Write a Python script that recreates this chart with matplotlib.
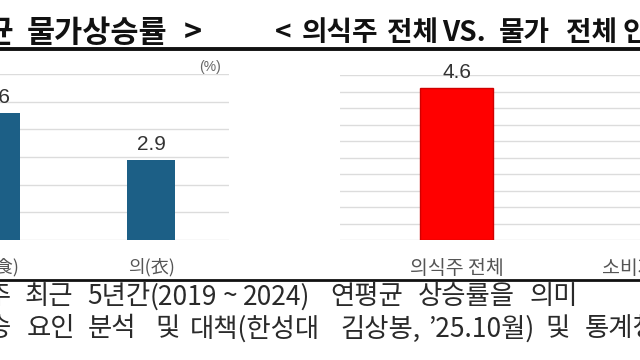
import matplotlib
matplotlib.use("Agg")
import matplotlib.pyplot as plt
import numpy as np

plt.rcParams['font.family'] = ['Noto Sans CJK KR', 'DejaVu Sans']

# left panel: 의식주 연평균 물가상승률 (cropped)
left_cats = ['식(食)', '의(衣)']
left_vals = [4.6, 2.9]

# right panel: 의식주 전체 vs. 물가 전체
right_cats = ['의식주 전체', '소비자물가 전체']
right_vals = [4.6]

# titles / footnotes, split into words
title_left = ['< 의식주 연평균', '물가상승률', '>']
title_right = ['<', '의식주', '전체', 'VS.', '물가', '전체', '인상률', '>']
note1 = ['주: 의식주', '최근', '5년간', '(2019', '~', '2024)', '연평균', '상승률을', '의미']
note2 = ['자료: 의식주 물가상승', '요인', '분석', '및', '대책(한성대', '김상봉,',
         '\u201925.10월)', '및', '통계청']

W, H = 640, 360
fig = plt.figure(figsize=(6.4, 3.6), dpi=100)
fig.patch.set_facecolor('white')


def px(x0, y_top, x1, y_bot):
    return [x0 / W, 1 - y_bot / H, (x1 - x0) / W, (y_bot - y_top) / H]


def words(items, starts, y, **kw):
    # first word is anchored by its right edge, the rest by their left edge
    for k, (w, x) in enumerate(zip(items, starts)):
        fig.text(x / W, 1 - y / H, w, ha='right' if k == 0 else 'left',
                 va='center', **kw)


grid_c = '#dcdcdc'

# ---- left panel
ax1 = fig.add_axes(px(-81.5, 74, 228.5, 240))
ax1.bar(range(len(left_cats)), left_vals, width=0.31, color='#1c5f86', zorder=3)
ax1.set_xlim(-0.5, 1.5)
ax1.set_ylim(0, 6)
ax1.set_yticks(np.arange(0, 7, 1))
ax1.grid(axis='y', color=grid_c, lw=1)
ax1.set_xticks(range(len(left_cats)))
ax1.set_xticklabels(left_cats, fontsize=13, color='#555555')
for i, v in enumerate(left_vals):
    ax1.annotate(f'{v:.1f}', (i, v), xytext=(0, 15), textcoords='offset pixels',
                 ha='center', va='center', fontsize=15, color='#333333',
                 family='Liberation Sans')
ax1.text(1.45, 6.25, '(%)', ha='right', va='center', fontsize=10, color='#666666',
         family='Liberation Sans')

# ---- right panel
ax2 = fig.add_axes(px(340, 75, 792.5, 240))
ax2.bar(range(len(right_vals)), right_vals, width=0.348, color='#ff0000',
        edgecolor='#d00000', lw=1, zorder=3)
ax2.set_xlim(-0.555, 1.6)
ax2.set_ylim(0, 5)
ax2.set_yticks(np.arange(0, 5.01, 0.5))
ax2.grid(axis='y', color=grid_c, lw=1)
ax2.set_xticks(range(len(right_cats)))
ax2.set_xticklabels(right_cats, fontsize=14, color='#555555')
for i, v in enumerate(right_vals):
    ax2.annotate(f'{v:.1f}', (i, v), xytext=(0, 16), textcoords='offset pixels',
                 ha='center', va='center', fontsize=15, color='#333333',
                 family='Liberation Sans')

for ax in (ax1, ax2):
    ax.set_facecolor('none')
    for s in ax.spines.values():
        s.set_visible(False)
    ax.tick_params(length=0, pad=13)
    ax.tick_params(axis='y', labelleft=False)
    ax.set_axisbelow(True)

# ---- titles and rules
words(title_left, [14, 27, 184], 33, fontsize=22, fontweight='bold', color='#111111')
words(title_right, [291, 302, 387, 442, 499, 566, 623, 720], 33,
      fontsize=20, fontweight='bold', color='#111111')
fig.add_artist(plt.Line2D([0, 1], [1 - 49 / H] * 2, color='#111111', lw=2.8))
fig.add_artist(plt.Line2D([0, 1], [1 - 279.5 / H] * 2, color='#111111', lw=2))

# ---- footnotes
nkw = dict(fontsize=19, color='#2a2a2a')
words(note1, [11, 25, 87, 150, 223, 243, 330, 418, 530], 297, **nkw)
words(note2, [11, 27, 88, 155, 190, 340, 428, 545, 585], 329, **nkw)

fig.savefig('out.png', dpi=100)
